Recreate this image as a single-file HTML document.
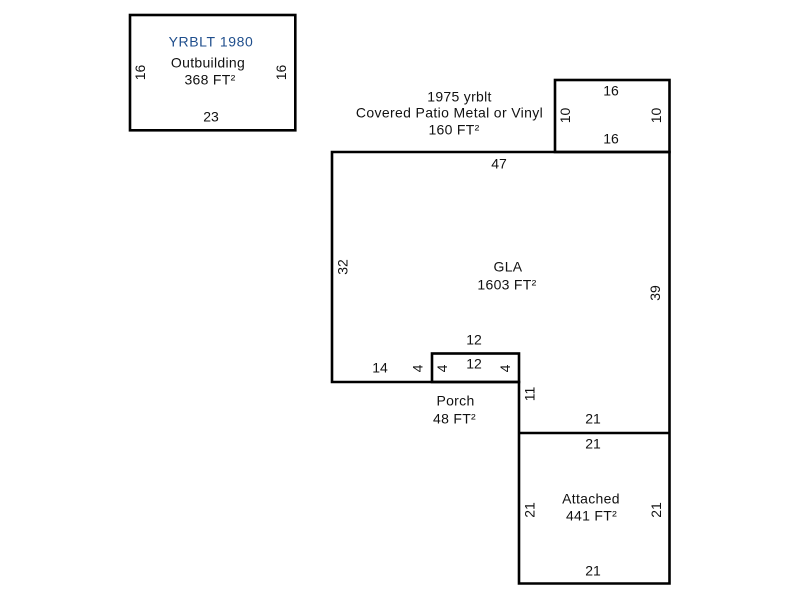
<!DOCTYPE html>
<html>
<head>
<meta charset="utf-8">
<style>
html,body{margin:0;padding:0;background:#fff;width:800px;height:600px;overflow:hidden}
svg{display:block}
text{font-family:"Liberation Sans",Arial,sans-serif;font-size:14px;fill:#111;text-anchor:middle}
.s{letter-spacing:.3px}
.l{fill:none;stroke:#000;stroke-width:2.6}
</style>
</head>
<body>
<svg width="800" height="600" viewBox="0 0 800 600" xmlns="http://www.w3.org/2000/svg">
<rect class="l" x="130" y="15" width="165.3" height="115.3"/>
<rect class="l" x="555" y="80" width="114.5" height="72"/>
<path class="l" d="M332 152H669.5V583.5H519V382H332Z"/>
<path class="l" d="M519 433H669.5"/>
<rect class="l" x="432" y="353.5" width="87" height="28.500"/>

<text x="211" y="46.500" style="fill:#1f4e8c;letter-spacing:.6px">YRBLT 1980</text>
<text class="s" x="208" y="67.500">Outbuilding</text>
<text class="s" x="210" y="84.500">368 FT²</text>
<text x="211" y="121.500">23</text>
<text transform="translate(145 72.500) rotate(-90)">16</text>
<text transform="translate(286 72.500) rotate(-90)">16</text>

<text class="s" x="459.500" y="101.500">1975 yrblt</text>
<text x="449.500" y="117.500" style="letter-spacing:.36px">Covered Patio Metal or Vinyl</text>
<text class="s" x="454" y="134.500">160 FT²</text>
<text x="611" y="95.500">16</text>
<text x="611" y="143.500">16</text>
<text transform="translate(570 115.500) rotate(-90)">10</text>
<text transform="translate(661 115.500) rotate(-90)">10</text>

<text x="499" y="168.500">47</text>
<text class="s" x="508" y="271.500">GLA</text>
<text class="s" x="507" y="289.500">1603 FT²</text>
<text transform="translate(347.500 267) rotate(-90)">32</text>
<text transform="translate(660 293) rotate(-90)">39</text>

<text x="474" y="344.500">12</text>
<text x="474" y="368.500">12</text>
<text x="380" y="372.500">14</text>
<text transform="translate(422.500 368.500) rotate(-90)">4</text>
<text transform="translate(447 368.500) rotate(-90)">4</text>
<text transform="translate(510 368.500) rotate(-90)">4</text>
<text transform="translate(534.500 394) rotate(-90)">11</text>
<text class="s" x="455.500" y="405.500">Porch</text>
<text class="s" x="454.500" y="423.500">48 FT²</text>

<text x="593" y="423.500">21</text>
<text x="593" y="448.500">21</text>
<text class="s" x="591" y="503.500">Attached</text>
<text class="s" x="591.500" y="520.500">441 FT²</text>
<text x="593" y="575.500">21</text>
<text transform="translate(534.500 510) rotate(-90)">21</text>
<text transform="translate(661 510) rotate(-90)">21</text>
</svg>
</body>
</html>
